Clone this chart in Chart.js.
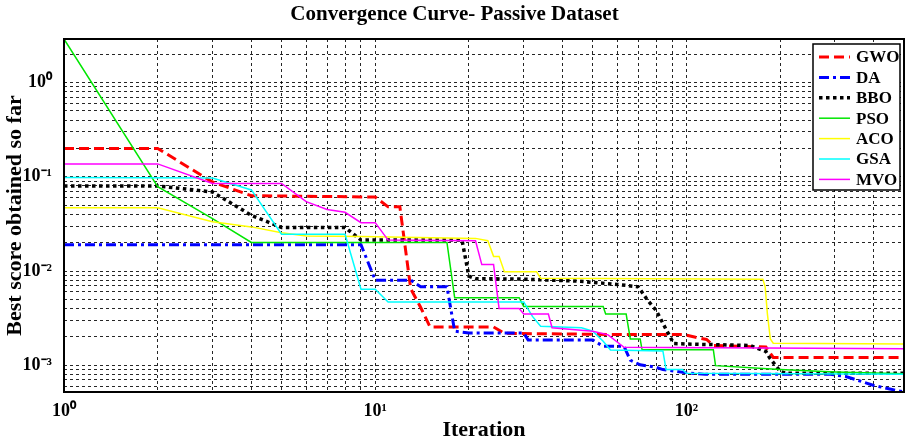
<!DOCTYPE html>
<html>
<head>
<meta charset="utf-8">
<script src="https://cdn.jsdelivr.net/npm/chart.js@4.4.0/dist/chart.umd.min.js"></script>
<style>
  body { margin: 0; background: #fff; }
  #wrap { width: 913px; height: 447px; }
</style>
</head>
<body>
<div id="wrap"><canvas id="chart"></canvas></div>
<script>
// best score per iteration, [iteration, score] breakpoints
const gwo = [[1,0.2],[2,0.2],[3,0.088],[4,0.063],[10,0.061],[11,0.048],[12,0.048],[13,0.0065],[14,0.0041],[15,0.00255],[24,0.00255],[26,0.00218],[60,0.00212],[98,0.00212],[107,0.00198],[116,0.00188],[122,0.00162],[180,0.00156],[186,0.00134],[190,0.00121],[500,0.00121]];
const da = [[1,0.019],[9,0.019],[10,0.008],[13,0.008],[14,0.0068],[17,0.0068],[18,0.0023],[20,0.0022],[30,0.0022],[31,0.00185],[50,0.00185],[54,0.00159],[63,0.00159],[66,0.00113],[71,0.00101],[80,0.00095],[84,0.0009],[100,0.00083],[115,0.0008],[290,0.0008],[325,0.00076],[400,0.00061],[450,0.00056],[500,0.00052]];
const bbo = [[1,0.08],[2,0.08],[3,0.069],[4,0.039],[5,0.029],[8,0.029],[9,0.0213],[19,0.0213],[20,0.0088],[21,0.0083],[30,0.0082],[45,0.0078],[60,0.0072],[70,0.0068],[75,0.0049],[80,0.0038],[86,0.0024],[91,0.0017],[100,0.00168],[160,0.00162],[180,0.0014],[185,0.0012],[195,0.00096],[200,0.00086],[210,0.00082],[500,0.00082]];
const pso = [[1,2.9],[2,0.0785],[3,0.036],[4,0.0201],[17,0.0201],[18,0.0052],[29,0.0052],[30,0.0042],[54,0.0042],[55,0.0035],[64,0.0035],[66,0.0019],[71,0.0019],[72,0.00146],[122,0.00146],[124,0.00099],[200,0.0009],[300,0.00085],[500,0.00081]];
const aco = [[1,0.047],[2,0.047],[3,0.0334],[4,0.0294],[5,0.0255],[6,0.0235],[9,0.0232],[21,0.0222],[23,0.021],[24,0.0143],[25,0.0143],[26,0.0098],[33,0.0098],[34,0.0084],[176,0.0082],[179,0.0068],[182,0.0035],[186,0.0019],[190,0.00171],[500,0.00168]];
const gsa = [[1,0.098],[3,0.097],[4,0.0725],[5,0.0246],[8,0.0246],[9,0.0064],[10,0.0064],[11,0.0047],[30,0.0047],[32,0.0033],[34,0.0026],[46,0.0025],[50,0.0023],[54,0.0018],[57,0.00145],[84,0.00142],[86,0.0009],[97,0.0009],[100,0.00082],[500,0.0008]];
const mvo = [[1,0.137],[2,0.137],[3,0.085],[5,0.085],[6,0.0545],[7,0.045],[8,0.042],[9,0.0326],[10,0.0326],[11,0.0213],[21,0.0209],[22,0.0117],[24,0.0117],[25,0.004],[29,0.004],[30,0.0035],[36,0.0035],[37,0.0025],[50,0.0023],[56,0.0021],[63,0.00155],[500,0.0015]];

const seriesNames = ["GWO", "DA", "BBO", "PSO", "ACO", "GSA", "MVO"];

// grid positions and the labelled decades
const xTicks = [1,2,3,4,5,6,7,8,9,10,20,30,40,50,60,70,80,90,100,200,300,400,500];
const yTicks = [0.0006,0.0007,0.0008,0.0009,0.001,0.002,0.003,0.004,0.005,0.006,0.007,0.008,0.009,
  0.01,0.02,0.03,0.04,0.05,0.06,0.07,0.08,0.09,0.1,0.2,0.3,0.4,0.5,0.6,0.7,0.8,0.9,1,2];
const xLabels = { 1: "10⁰", 10: "10¹", 100: "10²" };
const yLabels = { 0.001: "10⁻³", 0.01: "10⁻²", 0.1: "10⁻¹", 1: "10⁰" };

const serif = "'Liberation Serif', 'Times New Roman', serif";

const toPoints = (arr) => arr.map(([x, y]) => ({ x: x, y: y }));

const styles = [
  { color: "#ff0000", width: 3, dash: [10, 5] },
  { color: "#0000ff", width: 3, dash: [10, 4, 3, 4] },
  { color: "#000000", width: 3.5, dash: [3.5, 3.5] },
  { color: "#00e600", width: 1.5, dash: [] },
  { color: "#ffff00", width: 1.5, dash: [] },
  { color: "#00ffff", width: 1.5, dash: [] },
  { color: "#ff00ff", width: 1.5, dash: [] },
];

const allData = [gwo, da, bbo, pso, aco, gsa, mvo];

const datasets = allData.map((d, i) => ({
  label: seriesNames[i],
  data: toPoints(d),
  borderColor: styles[i].color,
  borderWidth: styles[i].width,
  borderDash: styles[i].dash,
  pointRadius: 0,
  fill: false,
  tension: 0,
  order: 7 - i,
}));

// box round the plot plus the boxed legend in the upper right
const framePlugin = {
  id: "frame",
  afterDraw(chart) {
    const { ctx, chartArea: a } = chart;
    ctx.save();
    ctx.strokeStyle = "#000";
    ctx.lineWidth = 2;
    ctx.setLineDash([]);
    ctx.strokeRect(a.left, a.top, a.right - a.left, a.bottom - a.top);

    const bx = a.right - 91, by = a.top + 5, bw = 87, bh = 146;
    ctx.fillStyle = "#fff";
    ctx.fillRect(bx, by, bw, bh);
    ctx.lineWidth = 1.5;
    ctx.strokeRect(bx, by, bw, bh);

    ctx.font = "bold 17px " + serif;
    ctx.textBaseline = "middle";
    chart.data.datasets.forEach((ds, i) => {
      const y = by + 13 + i * 20.4;
      ctx.strokeStyle = ds.borderColor;
      ctx.lineWidth = ds.borderWidth;
      ctx.setLineDash(ds.borderDash);
      ctx.beginPath();
      ctx.moveTo(bx + 6, y);
      ctx.lineTo(bx + 37, y);
      ctx.stroke();
      ctx.setLineDash([]);
      ctx.fillStyle = "#000";
      ctx.fillText(ds.label, bx + 43, y + 1);
    });
    ctx.restore();
  },
};

const gridOpts = { color: "rgba(0,0,0,0.85)", lineWidth: 1, drawTicks: false };

new Chart(document.getElementById("chart").getContext("2d"), {
  type: "line",
  data: { datasets: datasets },
  options: {
    responsive: true,
    maintainAspectRatio: false,
    animation: false,
    layout: { padding: { left: 0, right: 4, top: 0, bottom: 0 } },
    plugins: {
      legend: { display: false },
      tooltip: { enabled: false },
      title: {
        display: true,
        text: "Convergence Curve- Passive Dataset",
        color: "#000",
        font: { family: serif, size: 21, weight: "bold", lineHeight: 1.2 },
        padding: { top: 2, bottom: 11.8 },
      },
    },
    scales: {
      x: {
        type: "logarithmic",
        min: 1,
        max: 500,
        afterBuildTicks: (scale) => { scale.ticks = xTicks.map((v) => ({ value: v })); },
        afterFit: (scale) => { scale.height = 55; },
        grid: gridOpts,
        border: { display: false, dash: [3, 3] },
        ticks: {
          autoSkip: false,
          maxRotation: 0,
          padding: 9,
          color: "#000",
          font: { family: serif, size: 18, weight: "bold" },
          callback: (v) => xLabels[v] || "",
        },
        title: {
          display: true,
          text: "Iteration",
          color: "#000",
          font: { family: serif, size: 22, weight: "bold", lineHeight: 1.2 },
          padding: { top: 0, bottom: 3 },
        },
      },
      y: {
        type: "logarithmic",
        min: 0.00052,
        max: 2.9,
        afterBuildTicks: (scale) => { scale.ticks = yTicks.map((v) => ({ value: v })); },
        afterFit: (scale) => { scale.width = 64; },
        grid: gridOpts,
        border: { display: false, dash: [3, 3] },
        ticks: {
          autoSkip: false,
          padding: 12,
          color: "#000",
          font: { family: serif, size: 18, weight: "bold" },
          callback: (v) => yLabels[v] || "",
        },
        title: {
          display: true,
          text: "Best score obtained so far",
          color: "#000",
          font: { family: serif, size: 22, weight: "bold", lineHeight: 1.2 },
          padding: { top: 2, bottom: 0 },
        },
      },
    },
  },
  plugins: [framePlugin],
});
</script>
</body>
</html>
